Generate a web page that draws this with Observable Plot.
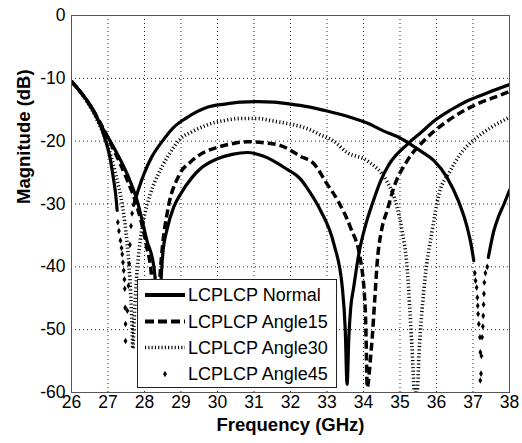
<!DOCTYPE html>
<html><head><meta charset="utf-8">
<script src="https://cdn.jsdelivr.net/npm/d3@7"></script>
<script src="https://cdn.jsdelivr.net/npm/@observablehq/plot@0.6"></script>
<style>
body{margin:0;background:#fff;}
#wrap{position:relative;width:522px;height:443px;font-family:"Liberation Sans",Arial,sans-serif;}
#legend{position:absolute;left:137px;top:279px;}
</style></head><body><div id="wrap"></div>
<script>
// ---- tick labels ----
const xTicks = [26,27,28,29,30,31,32,33,34,35,36,37,38];
const yTicks = [0,-10,-20,-30,-40,-50,-60];
const xGrid = [27,28,29,30,31,32,33,34,35,36,37];
const yGrid = [-10,-20,-30,-40,-50];
const seriesNames = ["LCPLCP Normal","LCPLCP Angle15","LCPLCP Angle30","LCPLCP Angle45"];

// ---- LCPLCP Normal ----
const normalFreq = [26,26.43,26.79,27.16,27.53,27.8,28.07,28.26,28.33,28.37,28.41,28.46,28.5,28.62,28.8,28.99,29.3,29.53,30.0,30.4,30.81,31.27,31.91,32.27,32.46,32.82,33.19,33.42,33.5,33.55,33.6,33.65,33.73,33.87,34.05,34.24,34.47,34.7,35.2,35.6,35.93,36.4,36.84,37.4,38];
const normalMag  = [-10.5,-13.6,-17.3,-21,-25.3,-29.5,-35.9,-40.1,-46,-55,-48,-41.5,-38,-34,-30.5,-28.4,-25.8,-24.4,-22.8,-22.1,-21.8,-22.4,-24.5,-26,-27.5,-31,-36.4,-43.3,-50,-58.7,-51,-46.5,-43.3,-38,-33.5,-30,-26.3,-23.7,-20.5,-18.5,-16.8,-15,-13.6,-12.3,-11];

// ---- LCPLCP Angle15 ----
const a15Freq = [26,26.45,26.8,27.15,27.5,27.8,28.05,28.2,28.27,28.31,28.36,28.42,28.49,28.62,28.94,29.26,29.53,29.99,30.4,30.81,31.36,31.73,32.27,32.64,33.0,33.3,33.64,33.92,34.05,34.08,34.1,34.2,34.24,34.31,34.38,34.5,34.65,34.83,35.2,35.66,36.3,37.11,37.6,38];
const a15Mag  = [-10.5,-13.8,-17.2,-21.3,-25.8,-30.5,-36.5,-42,-50,-58,-50,-42,-36.9,-31.5,-25.5,-23.3,-22.1,-21,-20.4,-20.1,-20.3,-20.7,-22.4,-23.6,-26.8,-29.5,-33.7,-39,-47,-53.9,-59.2,-54,-51.2,-45,-39,-34,-31,-27.4,-23.1,-19.9,-16.8,-14.1,-13,-12.1];

// ---- LCPLCP Angle30 ----
const a30Freq = [26,26.4,26.7,27.0,27.2,27.4,27.52,27.6,27.65,27.68,27.72,27.78,27.86,27.96,28.16,28.4,28.62,28.99,29.3,29.72,30.2,30.63,31.1,31.54,32.09,32.46,32.82,33.19,33.55,34.1,34.65,34.8,34.92,35.05,35.2,35.33,35.4,35.47,35.52,35.66,35.88,36.07,36.35,36.66,37.11,37.5,38];
const a30Mag  = [-10.5,-13.5,-16.6,-20.8,-25,-30.5,-36,-42,-48,-53,-48,-42,-37,-33,-28.4,-25,-22.6,-19.6,-18.5,-17.4,-16.7,-16.4,-16.4,-16.8,-17.4,-18,-19,-20,-21.8,-23.1,-26.5,-28.3,-30.5,-34,-40.5,-53,-60,-60,-54,-43.3,-34.3,-28.4,-25,-22,-19.4,-17.8,-16.2];

// ---- LCPLCP Angle45 (dense marker runs drawn as line parts) ----
const a45Freq = [26,26.4,26.7,26.9,27.05,27.15,27.22,27.25, 27.7,27.85,28.0,28.2,28.49,28.8,29.12,29.72,30.2,30.63,31.1,31.54,32.0,32.46,33.0,33.64,34.1,34.56,35.0,35.29,35.6,35.93,36.29,36.6,36.84,36.95,37.02, 37.42,37.57,37.7,37.85,38];
const a45Mag  = [-10.5,-13.3,-16.2,-19.3,-22.5,-26,-29,-31, -30.2,-27.4,-25,-22.5,-20,-17.8,-16.4,-14.6,-14.1,-13.8,-13.7,-13.8,-14.1,-14.5,-15.2,-16.2,-17.1,-18.4,-19.5,-20.5,-21.7,-23.1,-25.8,-29.5,-33.7,-36.5,-39, -38.5,-34.3,-32,-30,-27.8];
const a45Part = [1,1,1,1,1,1,1,1, 2,2,2,2,2,2,2,2,2,2,2,2,2,2,2,2,2,2,2,2,2,2,2,2,2,2,2, 3,3,3,3,3];
// separate markers visible near the two notches
const a45MarkFreq = [27.27,27.3,27.34,27.37,27.39,27.41,27.43,27.45,27.46,27.47,27.48,27.48, 27.53,27.56,27.58,27.6,27.63,27.66,
                     37.05,37.07,37.1,37.12,37.13,37.14,37.16,37.19,37.2,37.22,37.2, 37.23,37.25,37.27,37.28,37.29,37.3,37.31,37.34,37.39];
const a45MarkMag  = [-32.9,-34.3,-35.8,-37,-38,-39.3,-40.6,-42,-43.5,-46.5,-49.1,-51.8, -47,-43,-39.5,-36.5,-33.5,-31.5,
                     -41,-42.2,-43.3,-44.9,-46.2,-47.5,-49.1,-51.2,-53.6,-57,-58.1, -54.2,-51.2,-49.5,-47.8,-46,-44.3,-42.5,-41,-40];

const zip = (fs, ms, extra) => fs.map((f, i) => ({f, m: ms[i], p: extra ? extra[i] : 0}));
const normalData = zip(normalFreq, normalMag);
const a15Data = zip(a15Freq, a15Mag);
const a30Data = zip(a30Freq, a30Mag);
const a45Data = zip(a45Freq, a45Mag, a45Part);
const a45Marks = zip(a45MarkFreq, a45MarkMag);

const font = '"Liberation Sans", Arial, sans-serif';
const chart = Plot.plot({
  width: 522, height: 443,
  marginLeft: 71, marginRight: 13, marginTop: 15, marginBottom: 51,
  x: {domain: [26, 38]},
  y: {domain: [-60, 0]},
  style: {fontFamily: font, fontSize: "17.5px", color: "#000", background: "#fff", overflow: "visible"},
  marks: [
    Plot.gridX(xGrid, {stroke: "#000", strokeOpacity: 0.85, strokeDasharray: "1,3"}),
    Plot.gridY(yGrid, {stroke: "#000", strokeOpacity: 0.85, strokeDasharray: "1,3"}),
    Plot.line(a30Data, {x: "f", y: "m", stroke: "#000", strokeWidth: 3.6, strokeDasharray: "1.1,2.4", strokeLinecap: "butt", curve: "monotone-x", clip: true}),
    Plot.line(a45Data, {x: "f", y: "m", z: "p", stroke: "#000", strokeWidth: 3.2, curve: "monotone-x", clip: true}),
    Plot.dot(a45Marks, {x: "f", y: "m", symbol: "diamond", r: 2, fill: "#000", stroke: null, clip: true}),
    Plot.line(a15Data, {x: "f", y: "m", stroke: "#000", strokeWidth: 3.5, strokeDasharray: "8,4", strokeLinecap: "butt", curve: "monotone-x", clip: true}),
    Plot.line(normalData, {x: "f", y: "m", stroke: "#000", strokeWidth: 3.2, curve: "monotone-x", clip: true}),
    Plot.frame({stroke: "#555", strokeWidth: 1}),
    Plot.axisX({ticks: xTicks, tickSize: 0, tickPadding: 3, tickFormat: d => String(d), label: null}),
    Plot.axisY({ticks: yTicks, tickSize: 0, tickPadding: 6, tickFormat: d => String(d), label: null}),
    Plot.text(["Frequency (GHz)"], {frameAnchor: "bottom", dy: 38, text: d => d, fontWeight: "bold", fontSize: 18.5}),
    Plot.text(["Magnitude (dB)"], {frameAnchor: "left", dx: -47, rotate: -90, text: d => d, fontWeight: "bold", fontSize: 18.5})
  ]
});
const wrap = document.getElementById("wrap");
wrap.appendChild(chart);

// ---- legend ----
const ns = "http://www.w3.org/2000/svg";
const lg = document.createElementNS(ns, "svg");
lg.setAttribute("id", "legend");
lg.setAttribute("width", 201); lg.setAttribute("height", 110);
const mk = (tag, attrs) => { const e = document.createElementNS(ns, tag); for (const k in attrs) e.setAttribute(k, attrs[k]); lg.appendChild(e); return e; };
mk("rect", {x: 0.5, y: 0.5, width: 199, height: 108, fill: "#fff", stroke: "#222", "stroke-width": 1});
const rowY = [16, 42.5, 68.5, 95];
const sampleStyles = [
  {dash: null, w: 4},
  {dash: "9,4", w: 4},
  {dash: "1.1,2.2", w: 3.5},
  null
];
seriesNames.forEach((name, i) => {
  const y = rowY[i];
  const s = sampleStyles[i];
  if (s) {
    const a = {x1: 8, x2: 48, y1: y, y2: y, stroke: "#000", "stroke-width": s.w};
    if (s.dash) a["stroke-dasharray"] = s.dash;
    mk("line", a);
  } else {
    mk("path", {d: `M28,${y-3.3}L30,${y}L28,${y+3.3}L26,${y}Z`, fill: "#000"});
  }
  const t = mk("text", {x: 51, y: y, "dominant-baseline": "central", "font-size": 18, "font-family": font, fill: "#000"});
  t.textContent = name;
});
wrap.appendChild(lg);
</script>
</body></html>
